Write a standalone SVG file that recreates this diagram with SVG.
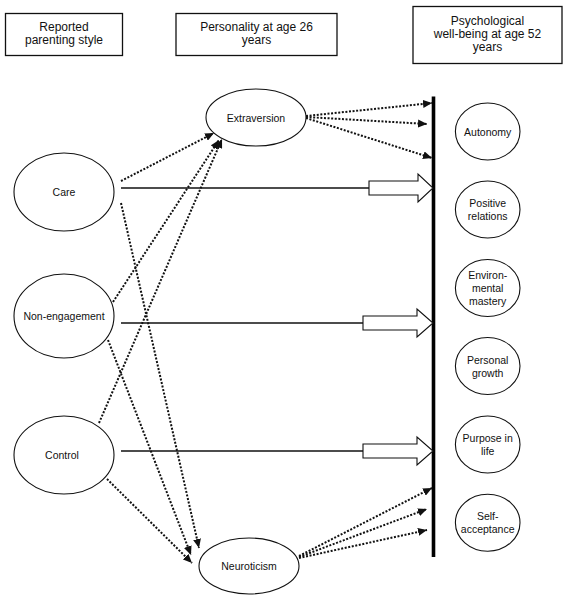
<svg xmlns="http://www.w3.org/2000/svg" width="568" height="600" viewBox="0 0 568 600">
<defs>
<style>
.box{fill:#fff;stroke:#111;stroke-width:1.3}
.node{fill:#fff;stroke:#111;stroke-width:1.1}
.t{font-family:"Liberation Sans",Arial,sans-serif;fill:#111;text-anchor:middle}
.bt{font-size:12px}
.nt{font-size:10.5px}
.dot{fill:none;stroke:#111;stroke-width:2;stroke-dasharray:2 1.6;marker-end:url(#ah)}
.solid{fill:none;stroke:#111;stroke-width:1.3}
.block{fill:#fff;stroke:#111;stroke-width:1.1}
</style>
<marker id="ah" markerUnits="userSpaceOnUse" markerWidth="9" markerHeight="8" refX="9" refY="4" orient="auto">
<path d="M0,0 L9,4 L0,8 z" fill="#111"/>
</marker>
</defs>
<rect width="568" height="600" fill="#fff"/>

<g id="box-parenting">
<rect class="box" x="5.5" y="13.5" width="117" height="42"/>
<text class="t bt" x="64" y="31">Reported</text>
<text class="t bt" x="64" y="44">parenting style</text>
</g>
<g id="box-personality">
<rect class="box" x="176" y="13.5" width="161" height="42"/>
<text class="t bt" x="256.5" y="31">Personality at age 26</text>
<text class="t bt" x="256.5" y="44">years</text>
</g>
<g id="box-wellbeing">
<rect class="box" x="413" y="6.5" width="149" height="57"/>
<text class="t bt" x="487.5" y="24.5">Psychological</text>
<text class="t bt" x="487.5" y="37.5">well-being at age 52</text>
<text class="t bt" x="487.5" y="50.5">years</text>
</g>

<g id="connectors">
<line x1="433.5" y1="96.5" x2="433.5" y2="557" stroke="#000" stroke-width="3.6"/>
<!-- solid direct paths with block arrows -->
<line class="solid" x1="121" y1="188" x2="369" y2="188"/>
<path class="block" d="M369,181 H418 V174 L433,188 L418,202 V195 H369 Z"/>
<line class="solid" x1="121" y1="323" x2="363" y2="323"/>
<path class="block" d="M363,316 H417 V309 L433,323 L417,337 V330 H363 Z"/>
<line class="solid" x1="121" y1="451" x2="363" y2="451"/>
<path class="block" d="M363,444 H417 V437 L433,451 L417,465 V458 H363 Z"/>
<!-- to Extraversion -->
<line class="dot" x1="121" y1="181" x2="214" y2="133"/>
<line class="dot" x1="113" y1="302" x2="219" y2="140"/>
<line class="dot" x1="99" y1="423" x2="222" y2="139"/>
<!-- to Neuroticism -->
<line class="dot" x1="121" y1="203" x2="199" y2="548"/>
<line class="dot" x1="108" y1="340" x2="191" y2="555"/>
<line class="dot" x1="107" y1="479" x2="192" y2="563"/>
<!-- from Extraversion -->
<line class="dot" x1="306" y1="116" x2="432" y2="103"/>
<line class="dot" x1="306" y1="117" x2="427" y2="124"/>
<line class="dot" x1="306" y1="118" x2="432" y2="158"/>
<!-- from Neuroticism -->
<line class="dot" x1="299" y1="556" x2="432" y2="488"/>
<line class="dot" x1="299" y1="557" x2="427" y2="509"/>
<line class="dot" x1="299" y1="558" x2="427" y2="530"/>
</g>

<g id="care">
<ellipse class="node" cx="64" cy="192" rx="50" ry="39"/>
<text class="t nt" x="64" y="196">Care</text>
</g>
<g id="non-engagement">
<ellipse class="node" cx="64" cy="316" rx="50" ry="42"/>
<text class="t nt" x="64" y="320">Non-engagement</text>
</g>
<g id="control">
<ellipse class="node" cx="64" cy="455" rx="50" ry="39"/>
<text class="t nt" x="62" y="459">Control</text>
</g>
<g id="extraversion">
<ellipse class="node" cx="256" cy="117.5" rx="50" ry="28.5"/>
<text class="t nt" x="256" y="121.5">Extraversion</text>
</g>
<g id="neuroticism">
<ellipse class="node" cx="249" cy="566" rx="50" ry="28"/>
<text class="t nt" x="249" y="570">Neuroticism</text>
</g>

<g id="autonomy">
<ellipse class="node" cx="487.7" cy="131.5" rx="32.3" ry="28.5"/>
<text class="t nt" x="487.7" y="135.5">Autonomy</text>
</g>
<g id="positive-relations">
<ellipse class="node" cx="487.7" cy="209.5" rx="32.3" ry="28.5"/>
<text class="t nt" x="487.7" y="207">Positive</text>
<text class="t nt" x="487.7" y="220">relations</text>
</g>
<g id="environmental-mastery">
<ellipse class="node" cx="487.7" cy="288" rx="32.3" ry="28.5"/>
<text class="t nt" x="487.7" y="279">Environ-</text>
<text class="t nt" x="487.7" y="292">mental</text>
<text class="t nt" x="487.7" y="305">mastery</text>
</g>
<g id="personal-growth">
<ellipse class="node" cx="487.7" cy="366" rx="32.3" ry="28.5"/>
<text class="t nt" x="487.7" y="363.5">Personal</text>
<text class="t nt" x="487.7" y="376.5">growth</text>
</g>
<g id="purpose-in-life">
<ellipse class="node" cx="487.7" cy="444.5" rx="32.3" ry="28.5"/>
<text class="t nt" x="487.7" y="442">Purpose in</text>
<text class="t nt" x="487.7" y="455">life</text>
</g>
<g id="self-acceptance">
<ellipse class="node" cx="487.7" cy="522.7" rx="32.3" ry="28.5"/>
<text class="t nt" x="487.7" y="520">Self-</text>
<text class="t nt" x="487.7" y="533">acceptance</text>
</g>
</svg>
